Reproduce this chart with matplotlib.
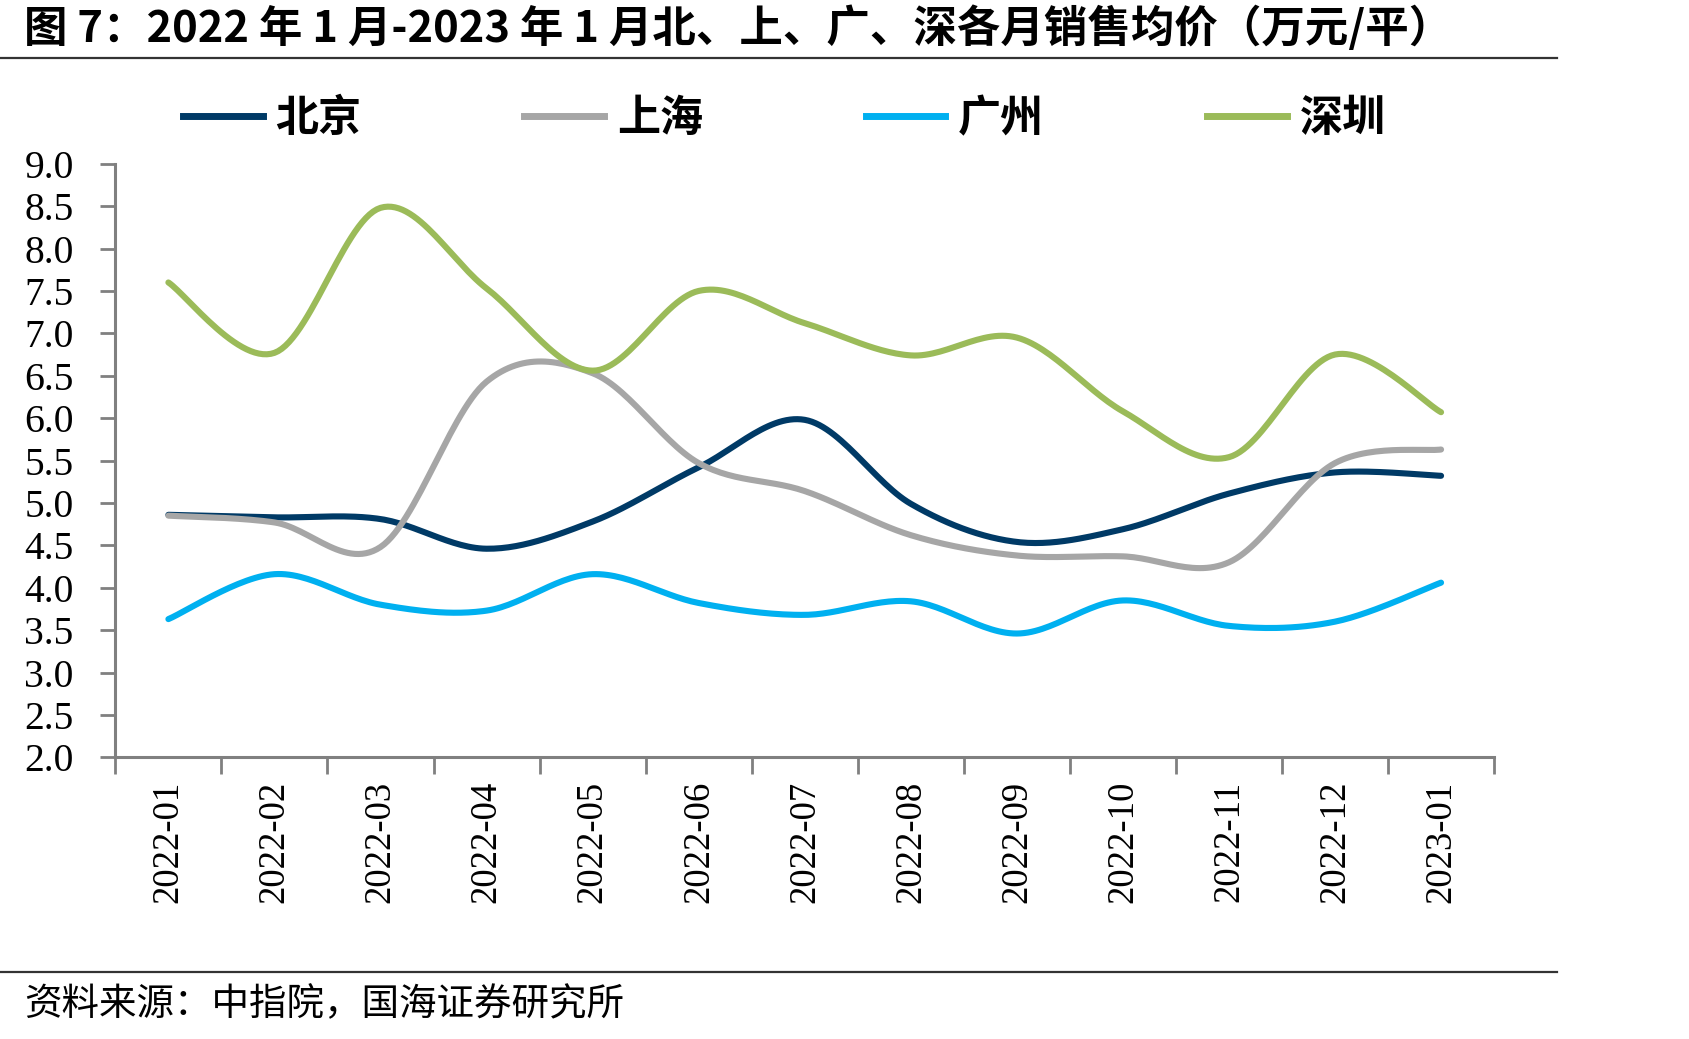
import numpy as np
import matplotlib
matplotlib.use("Agg")
import matplotlib.pyplot as plt
from matplotlib.lines import Line2D

plt.rcParams['font.family'] = ['Noto Sans CJK SC', 'DejaVu Sans']
plt.rcParams['axes.unicode_minus'] = False

# 数据（万元/平）
months = ["2022-01", "2022-02", "2022-03", "2022-04", "2022-05", "2022-06", "2022-07",
          "2022-08", "2022-09", "2022-10", "2022-11", "2022-12", "2023-01"]
beijing = [4.86, 4.83, 4.81, 4.46, 4.78, 5.42, 5.98, 4.99, 4.54, 4.69, 5.11, 5.36, 5.32]
shanghai = [4.85, 4.77, 4.48, 6.43, 6.53, 5.47, 5.14, 4.62, 4.38, 4.37, 4.30, 5.47, 5.63]
guangzhou = [3.63, 4.16, 3.80, 3.73, 4.16, 3.82, 3.68, 3.84, 3.46, 3.85, 3.55, 3.60, 4.06]
shenzhen = [7.60, 6.77, 8.48, 7.53, 6.56, 7.50, 7.12, 6.74, 6.95, 6.08, 5.54, 6.75, 6.07]

series_names = ["北京", "上海", "广州", "深圳"]
series_colors = ["#003A66", "#A6A6A6", "#00B0F0", "#9BBB59"]
yticks = [2.0, 2.5, 3.0, 3.5, 4.0, 4.5, 5.0, 5.5, 6.0, 6.5, 7.0, 7.5, 8.0, 8.5, 9.0]


def smooth(x, y, n=30):
    """Excel 风格平滑线：Catmull-Rom 转 Bezier"""
    x = np.asarray(x, float)
    y = np.asarray(y, float)
    px = np.concatenate([[x[0]], x, [x[-1]]])
    py = np.concatenate([[y[0]], y, [y[-1]]])
    t = np.linspace(0, 1, n)
    xs, ys = [], []
    for i in range(len(x) - 1):
        p0 = np.array([px[i], py[i]])
        p1 = np.array([px[i + 1], py[i + 1]])
        p2 = np.array([px[i + 2], py[i + 2]])
        p3 = np.array([px[i + 3], py[i + 3]])
        c1 = p1 + (p2 - p0) / 6.0
        c2 = p2 - (p3 - p1) / 6.0
        b = ((1 - t) ** 3)[:, None] * p1 + (3 * (1 - t) ** 2 * t)[:, None] * c1 \
            + (3 * (1 - t) * t ** 2)[:, None] * c2 + (t ** 3)[:, None] * p2
        xs.append(b[:, 0])
        ys.append(b[:, 1])
    return np.concatenate(xs), np.concatenate(ys)


fig = plt.figure(figsize=(16.89, 10.39), dpi=100)
ax = fig.add_axes([0.0683, 0.2711, 0.8163, 0.5713])

xi = np.arange(len(months))
for vals, name, color in zip([beijing, shanghai, guangzhou, shenzhen], series_names, series_colors):
    sx, sy = smooth(xi, vals)
    ax.plot(sx, sy, color=color, lw=4.4, solid_capstyle='round', label=name)

ax.set_xlim(-0.5, len(months) - 0.5)
ax.set_ylim(2.0, 9.0)
ax.set_yticks(yticks)
ax.set_yticklabels(["%.1f" % v for v in yticks], family='Liberation Serif', fontsize=28.5)
ax.set_xticks(xi)
ax.set_xticklabels(months, rotation=90, family='Liberation Serif', fontsize=26.5)
ax.set_xticks(np.arange(-0.5, len(months)), minor=True)
ax.tick_params(axis='x', which='major', length=0, pad=17)
ax.tick_params(axis='x', which='minor', length=12, width=2, color='#808080', direction='out')
ax.tick_params(axis='y', length=11, width=2, color='#808080', direction='out', pad=19)

for s in ['top', 'right']:
    ax.spines[s].set_visible(False)
for s in ['left', 'bottom']:
    ax.spines[s].set_color('#808080')
    ax.spines[s].set_linewidth(2.2)

handles = [Line2D([0], [0], color=c, lw=5) for c in series_colors]
fig.legend(handles, series_names, loc='center left', bbox_to_anchor=(0.1083, 0.886),
           ncol=4, frameon=False, borderpad=0, borderaxespad=0, handlelength=1.85,
           handletextpad=0.3, columnspacing=3.78,
           prop={'family': 'Noto Sans CJK SC', 'weight': 'bold', 'size': 31})

# 标题与来源
fig.text(0.014, 0.973, "图 7：2022 年 1 月-2023 年 1 月北、上、广、深各月销售均价（万元/平）",
         fontsize=31.3, fontweight='bold', va='center', ha='left')
fig.add_artist(Line2D([0, 0.922], [1 - 58 / 1039, 1 - 58 / 1039], color='#333333', lw=1.6))
fig.add_artist(Line2D([0, 0.922], [1 - 972 / 1039, 1 - 972 / 1039], color='#333333', lw=1.6))
fig.text(0.014, 1 - 1005 / 1039, "资料来源：中指院，国海证券研究所",
         fontsize=27, va='center', ha='left')

fig.savefig("out.png", dpi=100)
